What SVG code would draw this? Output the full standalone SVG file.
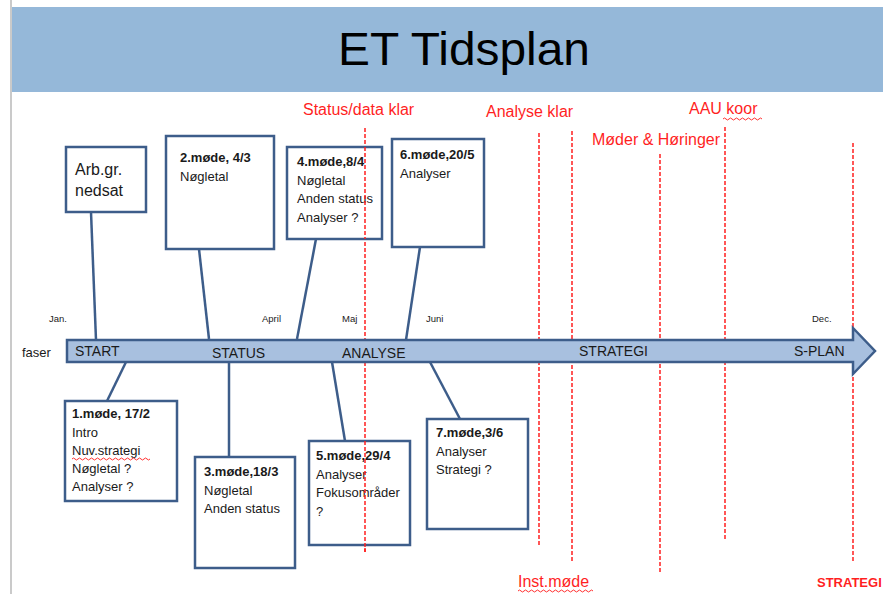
<svg xmlns="http://www.w3.org/2000/svg" width="883" height="594" viewBox="0 0 883 594">
  <style>
    .box { fill: #ffffff; stroke: #3d5d8a; stroke-width: 2.5; }
    .conn { stroke: #3d5d8a; stroke-width: 2.5; fill: none; }
    .txt { font-family: "Liberation Sans", Arial, sans-serif; font-size: 13px; fill: #1a1a1a; }
    .big { font-size: 16px; }
    .hd { font-weight: bold; }
    .red { font-family: "Liberation Sans", Arial, sans-serif; font-size: 16px; fill: #ff1f1f; }
    .redbold { font-weight: bold; font-size: 13px; }
    .mark { stroke: #ff1f1f; stroke-width: 1.5; stroke-dasharray: 4 2; fill: none; }
    .month { font-family: "Liberation Sans", Arial, sans-serif; font-size: 9.5px; fill: #1a1a1a; }
    .phase { font-family: "Liberation Sans", Arial, sans-serif; font-size: 14px; fill: #1a1a1a; }
    .wavy { stroke: #ff3030; stroke-width: 1; fill: none; }
  </style>

  <!-- page background and slide edge -->
  <rect x="0" y="0" width="883" height="594" fill="#ffffff"/>
  <line x1="11" y1="0" x2="11" y2="594" stroke="#b8b8b8" stroke-width="1.5"/>

  <!-- title band -->
  <g id="title">
    <rect x="12" y="7" width="871" height="85" fill="#95b8d9"/>
    <text x="464" y="65" text-anchor="middle" font-family="Liberation Sans, Arial, sans-serif" font-size="46" fill="#000000" textLength="252" lengthAdjust="spacingAndGlyphs">ET Tidsplan</text>
  </g>

  <!-- milestone markers -->
  <g id="milestones">
    <line class="mark" x1="365" y1="128" x2="365" y2="552"/>
    <line class="mark" x1="539" y1="133" x2="539" y2="546"/>
    <line class="mark" x1="572" y1="131" x2="572" y2="563"/>
    <line class="mark" x1="660" y1="154" x2="660" y2="572"/>
    <line class="mark" x1="725" y1="127" x2="725" y2="539"/>
    <line class="mark" x1="853" y1="143" x2="853" y2="561"/>
    <text class="red" x="303" y="115">Status/data klar</text>
    <text class="red" x="486" y="117">Analyse klar</text>
    <text class="red" x="689" y="114">AAU koor</text>
    <path class="wavy" d="M723 119 q1.5 -2 3 0 t3 0 t3 0 t3 0 t3 0 t3 0 t3 0 t3 0 t3 0 t3 0 t3 0 t3 0 t3 0"/>
    <text class="red" x="592" y="145">Møder &amp; Høringer</text>
    <text class="red" x="518" y="587">Inst.møde</text>
    <path class="wavy" d="M518 591 q1.5 -2 3 0 t3 0 t3 0 t3 0 t3 0 t3 0 t3 0 t3 0 t3 0 t3 0 t3 0 t3 0 t3 0 t3 0 t3 0 t3 0 t3 0 t3 0 t3 0 t3 0 t3 0 t3 0 t3 0 t3 0 t3 0"/>
    <text class="red redbold" x="817" y="587">STRATEGI</text>
  </g>

  <!-- timeline arrow -->
  <g id="timeline">
    <polygon points="67,340 853,340 853,328 875,351 853,374 853,362 67,362" fill="#a8c0df" stroke="#3d5d8a" stroke-width="2.5" stroke-linejoin="miter"/>
    <text class="phase" x="75" y="356">START</text>
    <text class="phase" x="212" y="358">STATUS</text>
    <text class="phase" x="342" y="358">ANALYSE</text>
    <text class="phase" x="579" y="356">STRATEGI</text>
    <text class="phase" x="794" y="356">S-PLAN</text>
    <text class="txt" x="22" y="357">faser</text>
    <text class="month" x="49" y="322">Jan.</text>
    <text class="month" x="262" y="322">April</text>
    <text class="month" x="342" y="322">Maj</text>
    <text class="month" x="426" y="322">Juni</text>
    <text class="month" x="812" y="322">Dec.</text>
  </g>

  <!-- connectors from meetings to the timeline -->
  <g id="connectors">
    <line class="conn" x1="91" y1="212" x2="96" y2="340"/>
    <line class="conn" x1="199" y1="249" x2="209" y2="339"/>
    <line class="conn" x1="316" y1="239" x2="297" y2="339"/>
    <line class="conn" x1="420" y1="247" x2="406" y2="340"/>
    <line class="conn" x1="126" y1="362" x2="107" y2="401"/>
    <line class="conn" x1="229" y1="362" x2="229" y2="457"/>
    <line class="conn" x1="332" y1="362" x2="345" y2="441"/>
    <line class="conn" x1="430" y1="362" x2="460" y2="419"/>
  </g>

  <!-- meetings above the timeline -->
  <g id="arb-gr">
    <rect class="box" x="66" y="147" width="80" height="65"/>
    <text class="txt big" x="75" y="175">Arb.gr.</text>
    <text class="txt big" x="75" y="196">nedsat</text>
  </g>
  <g id="mode2">
    <rect class="box" x="166" y="136" width="108" height="113"/>
    <text class="txt hd" x="180" y="162">2.møde, 4/3</text>
    <text class="txt" x="180" y="181">Nøgletal</text>
  </g>
  <g id="mode4">
    <rect class="box" x="287" y="147" width="95" height="92"/>
    <text class="txt hd" x="297" y="166">4.møde,8/4</text>
    <text class="txt" x="297" y="185">Nøgletal</text>
    <text class="txt" x="297" y="203">Anden status</text>
    <text class="txt" x="297" y="222">Analyser ?</text>
  </g>
  <g id="mode6">
    <rect class="box" x="392" y="139" width="92" height="108"/>
    <text class="txt hd" x="400" y="159">6.møde,20/5</text>
    <text class="txt" x="400" y="178">Analyser</text>
  </g>

  <!-- meetings below the timeline -->
  <g id="mode1">
    <rect class="box" x="65" y="401" width="112" height="100"/>
    <text class="txt hd" x="72" y="418">1.møde, 17/2</text>
    <text class="txt" x="72" y="437">Intro</text>
    <text class="txt" x="72" y="455">Nuv.strategi</text>
    <path class="wavy" d="M72 459 q1.5 -2 3 0 t3 0 t3 0 t3 0 t3 0 t3 0 t3 0 t3 0 t3 0 t3 0 t3 0 t3 0 t3 0 t3 0 t3 0 t3 0 t3 0 t3 0 t3 0 t3 0 t3 0 t3 0 t3 0 t3 0 t3 0 t3 0"/>
    <text class="txt" x="72" y="473">Nøgletal ?</text>
    <text class="txt" x="72" y="491">Analyser ?</text>
  </g>
  <g id="mode3">
    <rect class="box" x="195" y="457" width="100" height="111"/>
    <text class="txt hd" x="204" y="476">3.møde,18/3</text>
    <text class="txt" x="204" y="495">Nøgletal</text>
    <text class="txt" x="204" y="513">Anden status</text>
  </g>
  <g id="mode5">
    <rect class="box" x="309" y="441" width="101" height="104"/>
    <text class="txt hd" x="316" y="460">5.møde,29/4</text>
    <text class="txt" x="316" y="479">Analyser</text>
    <text class="txt" x="316" y="497">Fokusområder</text>
    <text class="txt" x="316" y="516">?</text>
  </g>
  <g id="mode7">
    <rect class="box" x="427" y="419" width="101" height="110"/>
    <text class="txt hd" x="436" y="437">7.møde,3/6</text>
    <text class="txt" x="436" y="456">Analyser</text>
    <text class="txt" x="436" y="474">Strategi ?</text>
  </g>

  <!-- dashed marker segments that run across the boxes at x=365 -->
  <line class="mark" x1="365" y1="441" x2="365" y2="552"/>
  <line class="mark" x1="365" y1="147" x2="365" y2="239"/>
</svg>
